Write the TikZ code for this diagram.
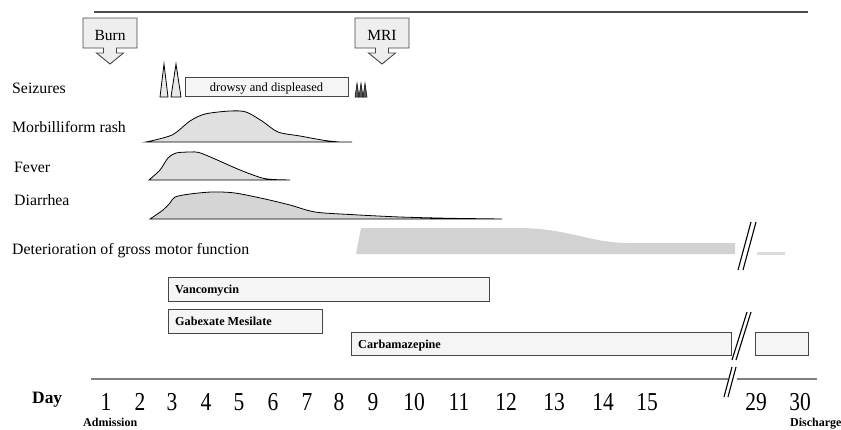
\documentclass[tikz,border=0pt]{standalone}
\usepackage{fontspec}
\setmainfont{Liberation Serif}
\usepackage{tikz}
\usepackage{xcolor}
\usetikzlibrary{calc}
\definecolor{curvegray}{RGB}{224,224,224}
\definecolor{bandgray}{RGB}{210,210,210}
\definecolor{boxgray}{RGB}{245,245,245}
\definecolor{callgray}{RGB}{238,238,238}
\definecolor{edgegray}{RGB}{70,70,70}
\definecolor{axisgray}{RGB}{128,128,128}
\newcommand{\daynum}[1]{\scalebox{1}[1.2]{#1}}

\begin{document}
\begin{tikzpicture}[x=1pt,y=-1pt,
  lbl/.style={anchor=base west,inner sep=0pt,font=\fontsize{15.8}{18}\selectfont},
  drug/.style={anchor=base west,inner sep=0pt,font=\fontsize{12.2}{14}\selectfont\bfseries},
  bar/.style={draw=edgegray,fill=boxgray,line width=.9pt},
  bump/.style={draw=black,fill=curvegray,line width=.8pt},
  brk/.style={black,line width=1.1pt}]
\useasboundingbox (0,0) rectangle (841,429);
\draw[axisgray!60!black,line width=1.3pt] (94,12) -- (808,12);
% events
\foreach \cx/\txt in {110/Burn,382/MRI}{
  \draw[bar,fill=callgray] (\cx-27,18) -- (\cx+27,18) -- (\cx+27,48) -- (\cx+6.5,48) -- (\cx+6.5,53)
    -- (\cx+13.5,53) -- (\cx,64) -- (\cx-13.5,53) -- (\cx-6.5,53) -- (\cx-6.5,48) -- (\cx-27,48) -- cycle;
  \node[anchor=base,inner sep=0pt,font=\fontsize{15.5}{18}\selectfont] (\txt) at (\cx,40) {\txt};
}
% symptoms
\node[lbl] (seiz) at (12,93) {Seizures};
\node[lbl] (rash) at (12,132) {Morbilliform rash};
\node[lbl] (fever) at (14,172) {Fever};
\node[lbl] (diarr) at (14,205) {Diarrhea};
\node[lbl] (motor) at (12,254) {Deterioration of gross motor function};
\draw[bump,fill=curvegray!70] (160,97) -- (164,64) -- (168,97) -- cycle;
\draw[bump,fill=curvegray!70] (171,97) -- (176,64) -- (181,97) -- cycle;
\draw[bar] (185,77) rectangle (348,96);
\node[anchor=base,inner sep=0pt,font=\fontsize{12.5}{14}\selectfont] (drowsy) at (266.5,91.5) {drowsy and displeased};
\foreach \s in {355,359,363}
  \draw[fill=gray!70!black,line width=.5pt] (\s,97) -- (\s+2,83) -- (\s+4,97) -- cycle;
\draw[bump] plot[smooth] coordinates {(146,142) (172,135) (190,121) (205,114) (230,111) (246,112)
  (262,121) (278,132) (300,136) (325,140.5) (340,142)} -- (352,142) -- cycle;
\draw[bump] plot[smooth] coordinates {(149,180) (160,170) (168,158) (176,153) (190,152) (199,152.5)
  (215,159) (240,170) (262,178) (275,179.6)} -- (290,180) -- cycle;
\draw[bump,fill=curvegray!95!black] plot[smooth] coordinates {(150,219) (163,210) (170,203) (175,197)
  (190,194) (212,192) (235,193) (265,199) (290,205) (315,212) (350,214.5) (400,217) (450,218.3)} -- (502,219) -- cycle;
\fill[bandgray] (361,228) -- (522,228) .. controls (570,229) and (590,243) .. (630,243)
  -- (735,243) -- (735,254) -- (356,254) -- cycle;
\fill[bandgray!80] (757,252) rectangle (785,255);
\draw[brk] (738,270) -- (751,222) (743,270) -- (756,222);
% drugs
\draw[bar] (168,277) rectangle (489,301);
\node[drug] (vanco) at (175,293) {Vancomycin};
\draw[bar] (168,309) rectangle (322,333);
\node[drug] (gabex) at (175,325) {Gabexate Mesilate};
\draw[bar] (351,332) rectangle (731,355);
\node[drug] (carba) at (358,348) {Carbamazepine};
\draw[bar] (755,332) rectangle (808,355);
\draw[brk] (732,360) -- (747,312) (736,360) -- (751,312);
% time axis
\draw[axisgray,line width=1.8pt] (91,379) -- (728,379) (737,379) -- (817,379);
\draw[brk] (724,397) -- (732,367) (728,397) -- (736,367);
\node[anchor=base west,inner sep=0pt,font=\fontsize{17.4}{20}\selectfont\bfseries] (day) at (32,403) {Day};
\foreach \x/\d in {106/1,140/2,172/3,206/4,239/5,273/6,307/7,339/8,373/9,414/10,459/11,
  506/12,554/13,603/14,647/15,756/29,800/30}
  \node[anchor=base,inner sep=0pt,font=\fontsize{21.5}{24}\selectfont] (d\d) at (\x,410) {\daynum{\d}};
\node[drug,font=\fontsize{12}{14}\selectfont\bfseries] (adm) at (83,426.5) {Admission};
\node[drug,font=\fontsize{12}{14}\selectfont\bfseries] (disch) at (790,426.5) {Discharge};
\end{tikzpicture}
\end{document}
